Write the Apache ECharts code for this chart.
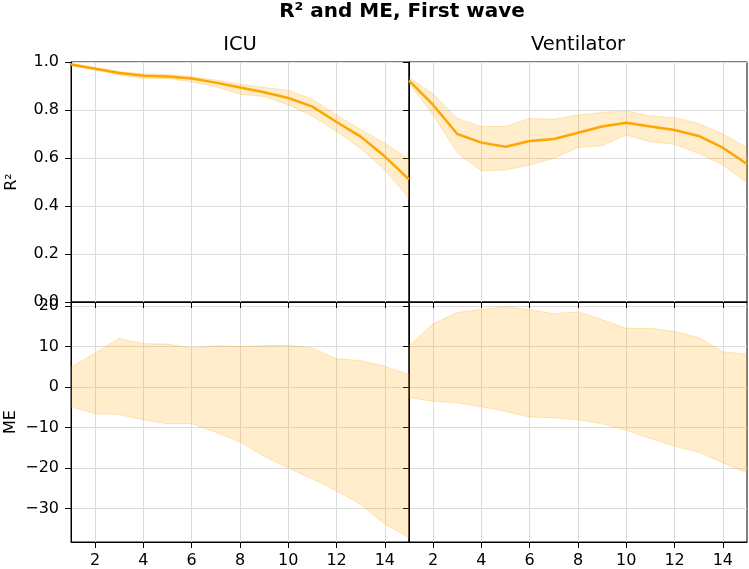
<!DOCTYPE html>
<html><head><meta charset="utf-8">
<script src="https://cdn.jsdelivr.net/npm/echarts@6/dist/echarts.min.js"></script>
<style>html,body{margin:0;padding:0;background:#fff}#c{width:749px;height:569px}</style>
</head><body><div id="c"></div>
<script>
const steps = ['1','2','3','4','5','6','7','8','9','10','11','12','13','14','15'];
const tickSteps = ['2','4','6','8','10','12','14'];
const meTicks = [-30, -20, -10, 0, 10, 20];

const icuR2Mean  = [0.990,0.972,0.954,0.943,0.940,0.931,0.914,0.894,0.874,0.850,0.814,0.750,0.689,0.606,0.511];
const icuR2Upper = [0.995,0.977,0.960,0.951,0.948,0.939,0.925,0.907,0.894,0.882,0.845,0.779,0.719,0.661,0.594];
const icuR2Lower = [0.985,0.967,0.946,0.932,0.931,0.918,0.897,0.866,0.856,0.821,0.775,0.710,0.640,0.550,0.432];

const ventR2Mean  = [0.922,0.821,0.700,0.664,0.647,0.671,0.679,0.705,0.731,0.747,0.731,0.717,0.692,0.643,0.575];
const ventR2Upper = [0.936,0.867,0.765,0.731,0.731,0.765,0.761,0.779,0.790,0.796,0.775,0.768,0.744,0.700,0.644];
const ventR2Lower = [0.911,0.779,0.622,0.547,0.550,0.571,0.599,0.644,0.651,0.696,0.668,0.657,0.619,0.571,0.497];

const icuMEUpper = [4.9,8.4,12.0,10.7,10.6,9.6,10.2,10.0,10.2,10.3,9.6,7.0,6.5,5.1,3.0];
const icuMELower = [-4.9,-6.6,-6.8,-8.1,-9.1,-9.0,-11.2,-13.6,-17.1,-20.0,-22.7,-25.7,-29.0,-33.9,-37.2];

const ventMEUpper = [10.2,15.6,18.4,19.2,19.9,19.1,18.1,18.6,16.6,14.5,14.5,13.7,12.2,8.7,8.1];
const ventMELower = [-2.6,-3.5,-3.9,-4.9,-6.0,-7.4,-7.6,-8.1,-9.1,-10.7,-12.7,-14.6,-16.1,-18.7,-21.2];

const FONT = 'DejaVu Sans';
const ORANGE = '#FFA500';
const BAND = 'rgba(255,165,0,0.2)';
const EDGE = 'rgba(255,165,0,0.25)';
const GRIDC = '#dcdcdc';

const chart = echarts.init(document.getElementById('c'), null, {renderer: 'canvas'});

const grids = [
  {left: 71, top: 62, width: 338, height: 240},
  {left: 409, top: 62, width: 338, height: 240},
  {left: 71, top: 302, width: 338, height: 241},
  {left: 409, top: 302, width: 338, height: 241}
].map(g => Object.assign({show: true, borderColor: '#000', borderWidth: 1, backgroundColor: 'transparent'}, g));

const showEven = (idx, val) => tickSteps.indexOf(String(val)) >= 0;

function xAxis(gi, labels) {
  return {
    type: 'category', gridIndex: gi, data: steps, boundaryGap: false,
    axisLine: {show: true, onZero: false, lineStyle: {color: '#000', width: 1}},
    axisTick: {show: true, inside: false, length: 6, interval: showEven, lineStyle: {color: '#000'}},
    axisLabel: {show: labels, interval: showEven, margin: 11, fontSize: 16, fontFamily: FONT, color: '#000'},
    splitLine: {show: true, interval: showEven, lineStyle: {color: GRIDC, width: 1}}
  };
}
function yR2(gi, labels) {
  return {
    type: 'value', gridIndex: gi, min: 0, max: 1, interval: 0.2,
    axisLine: {show: true, onZero: false, lineStyle: {color: '#000'}},
    axisTick: {show: true, length: 6, lineStyle: {color: '#000'}},
    axisLabel: {show: labels, margin: 12, fontSize: 16, fontFamily: FONT, color: '#000',
      formatter: v => v.toFixed(1)},
    splitLine: {show: true, lineStyle: {color: GRIDC}}
  };
}
function yME(gi, labels) {
  return {
    type: 'value', gridIndex: gi, min: -38.3, max: 21.0,
    axisLine: {show: true, onZero: false, lineStyle: {color: '#000'}},
    axisTick: {show: true, length: 6, customValues: meTicks, lineStyle: {color: '#000'}},
    axisLabel: {show: labels, margin: 12, fontSize: 16, fontFamily: FONT, color: '#000',
      customValues: meTicks, formatter: v => (v < 0 ? '\u2212' + Math.abs(v) : String(v))},
    splitLine: {show: true, lineStyle: {color: GRIDC}}
  };
}

function band(gi, lower, upper, name) {
  const diff = upper.map((u, i) => +(u - lower[i]).toFixed(4));
  return [
    {type: 'line', name: name + '_lo', xAxisIndex: gi, yAxisIndex: gi, data: lower,
     stack: name, stackStrategy: 'all', symbol: 'none', silent: true,
     lineStyle: {color: EDGE, width: 1}, z: 2},
    {type: 'line', name: name + '_band', xAxisIndex: gi, yAxisIndex: gi, data: diff,
     stack: name, stackStrategy: 'all', symbol: 'none', silent: true,
     lineStyle: {color: EDGE, width: 1}, areaStyle: {color: BAND, opacity: 1}, z: 2}
  ];
}
function meanLine(gi, vals) {
  return {type: 'line', xAxisIndex: gi, yAxisIndex: gi, data: vals, symbol: 'none',
    lineStyle: {color: ORANGE, width: 2.5}, z: 3, silent: true};
}

const option = {
  animation: false,
  textStyle: {fontFamily: FONT},
  grid: grids,
  xAxis: [xAxis(0, false), xAxis(1, false), xAxis(2, true), xAxis(3, true)],
  yAxis: [yR2(0, true), yR2(1, false), yME(2, true), yME(3, false)],
  series: [].concat(
    band(0, icuR2Lower, icuR2Upper, 'icuR2'), [meanLine(0, icuR2Mean)],
    band(1, ventR2Lower, ventR2Upper, 'ventR2'), [meanLine(1, ventR2Mean)],
    band(2, icuMELower, icuMEUpper, 'icuME'),
    band(3, ventMELower, ventMEUpper, 'ventME')
  ),
  graphic: [
    {type: 'text', x: 402, y: 12, style: {text: 'R² and ME, First wave', fontSize: 20, fontWeight: 'bold', fontFamily: FONT, fill: '#000', align: 'center', verticalAlign: 'middle'}},
    {type: 'text', x: 240, y: 45, style: {text: 'ICU', fontSize: 19.5, fontFamily: FONT, fill: '#000', align: 'center', verticalAlign: 'middle'}},
    {type: 'text', x: 578, y: 45, style: {text: 'Ventilator', fontSize: 19.5, fontFamily: FONT, fill: '#000', align: 'center', verticalAlign: 'middle'}},
    {type: 'text', x: 12, y: 182, rotation: Math.PI / 2, style: {text: 'R²', fontSize: 16, fontFamily: FONT, fill: '#000', align: 'center', verticalAlign: 'middle'}},
    {type: 'text', x: 11, y: 422, rotation: Math.PI / 2, style: {text: 'ME', fontSize: 16, fontFamily: FONT, fill: '#000', align: 'center', verticalAlign: 'middle'}}
  ]
};
chart.setOption(option);
</script>
</body></html>
